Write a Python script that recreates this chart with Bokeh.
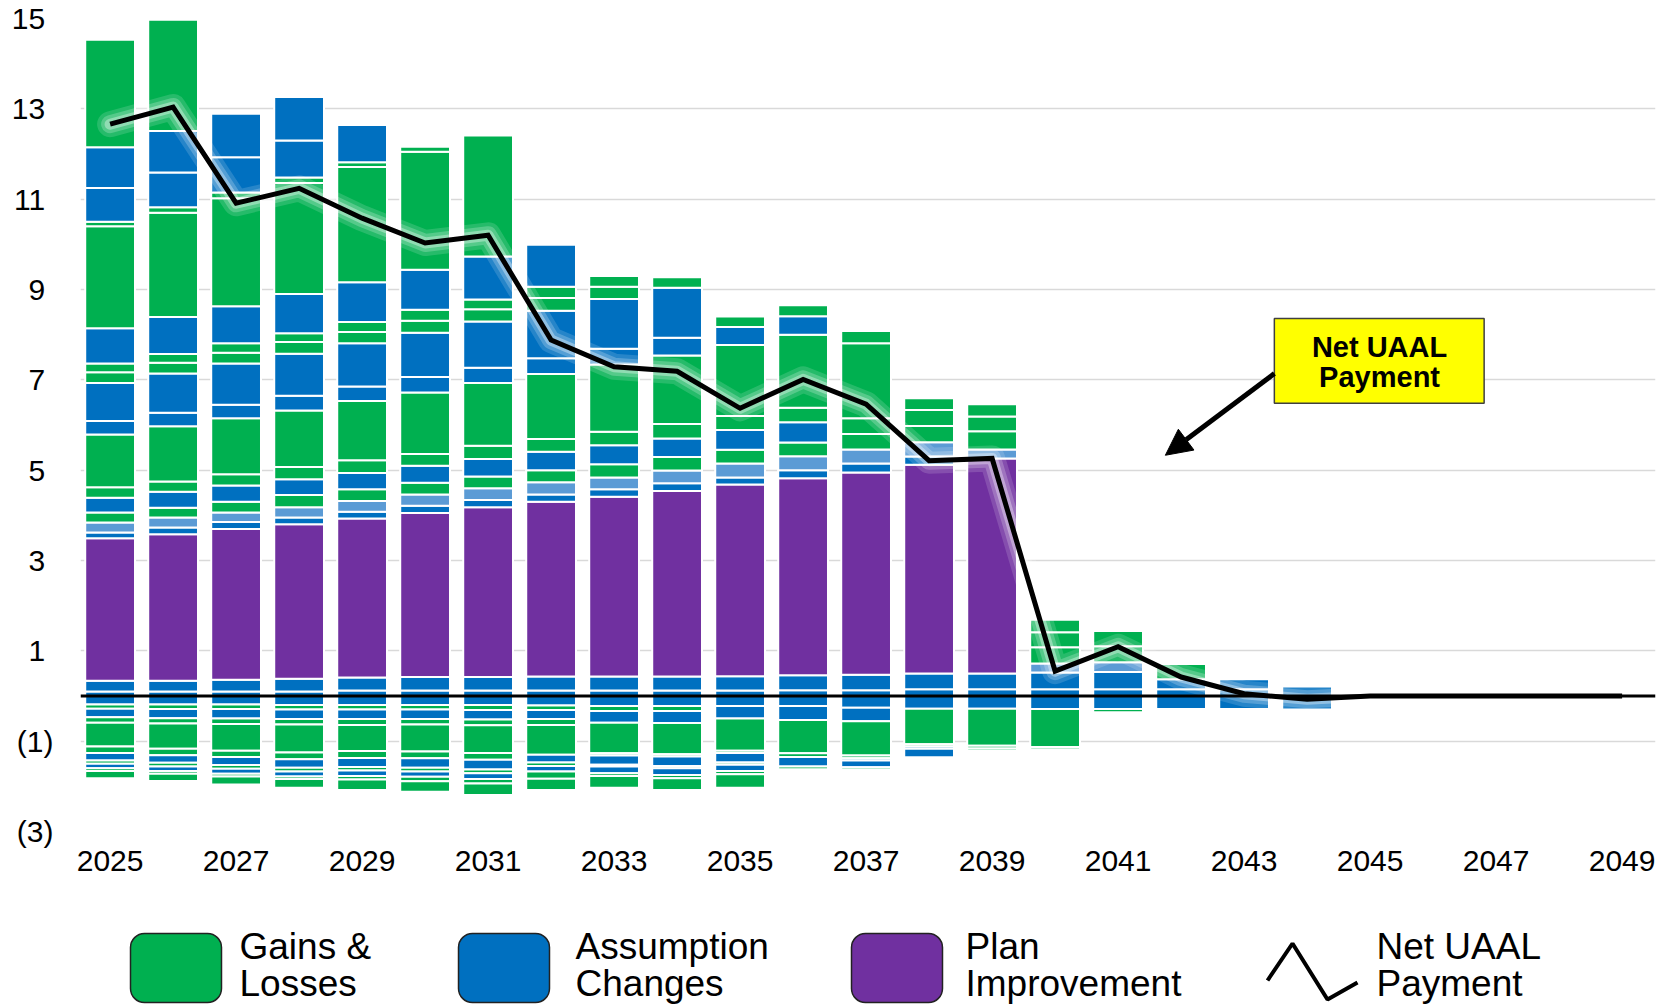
from bokeh.plotting import figure
from bokeh.layouts import column
from bokeh.models import (ColumnDataSource, FixedTicker, Range1d, Span, BoxAnnotation,
                          Label, Arrow, NormalHead)
from bokeh.core.properties import value
from bokeh.embed import file_html
from bokeh.resources import INLINE

# ---------------- data ----------------
years = list(range(2025, 2045))
line_years = list(range(2025, 2050))
net_uaal = [12.66, 13.04, 10.91, 11.24, 10.58, 10.03, 10.20, 7.88, 7.29, 7.19, 6.37, 7.01,
            6.46, 5.21, 5.26, 0.55, 1.09, 0.42, 0.05, -0.07, 0, 0, 0, 0, 0]

# positive layers, bottom to top (G = Gains & Losses, B = Assumption Changes,
# P = Plan Improvement, L = Assumption Changes lighter shade)
pos_b0 = [0.10, 0.10, 0.10, 0.10, 0.12, 0.12, 0.12, 0.12, 0.12, 0.12, 0.12, 0.13, 0.13, 0.15, 0.15, 0.15, 0.15, 0.15, 0.15, 0.21]
pos_b1 = [0.24, 0.24, 0.26, 0.28, 0.29, 0.30, 0.30, 0.31, 0.31, 0.31, 0.32, 0.33, 0.34, 0.35, 0.35, 0.37, 0.38, 0.22, 0.22, 0]
pos_plan = [3.15, 3.24, 3.34, 3.42, 3.52, 3.63, 3.76, 3.87, 3.98, 4.11, 4.24, 4.36, 4.48, 4.62, 4.76, 0, 0, 0, 0, 0]
pos_b3 = [0.13, 0.15, 0.15, 0.15, 0.15, 0.16, 0.16, 0.16, 0.17, 0.17, 0.16, 0.18, 0.20, 0.18, 0, 0, 0, 0, 0, 0]
pos_l4 = [0.22, 0.22, 0.21, 0.23, 0.24, 0.25, 0.26, 0.27, 0.26, 0.28, 0.31, 0.31, 0.31, 0.32, 0.20, 0.20, 0.22, 0, 0, 0]
pos_g5 = [0.22, 0.22, 0.24, 0.27, 0.26, 0.26, 0.26, 0.27, 0.29, 0.30, 0.30, 0.30, 0.34, 0.36, 0.40, 0.36, 0.35, 0.34, 0, 0]
pos_b6 = [0.33, 0.35, 0.36, 0.35, 0.36, 0.38, 0.39, 0.41, 0.42, 0.41, 0.44, 0.45, 0, 0, 0, 0, 0, 0, 0, 0]
pos_g7 = [0.23, 0.23, 0.25, 0.27, 0.28, 0.26, 0.29, 0.28, 0.30, 0.32, 0.31, 0.32, 0.35, 0.35, 0.33, 0.33, 0.34, 0, 0, 0]
pos_g8 = [1.17, 1.22, 1.24, 1.25, 1.31, 1.36, 1.39, 1.44, 1.49, 1.52, 1.57, 1.62, 1.66, 0, 0, 0, 0, 0, 0, 0]
pos_b9 = [0.30, 0.30, 0.30, 0.33, 0.32, 0.34, 0.34, 0.35, 0.35, 0.39, 0.40, 0.41, 0, 0, 0, 0, 0, 0, 0, 0]
pos_b10 = [0.84, 0.87, 0.91, 0.93, 0.96, 0.98, 1.02, 1.05, 1.10, 1.11, 0, 0, 0, 0, 0, 0, 0, 0, 0, 0]
pos_g11 = [0.24, 0.24, 0.24, 0.26, 0.25, 0.27, 0.27, 0.28, 0.27, 0.23, 0.23, 0.24, 0.27, 0.26, 0.27, 0.28, 0, 0, 0, 0]
pos_g12 = [0.19, 0.19, 0.21, 0.19, 0.22, 0.24, 0.22, 0.25, 0.24, 0, 0, 0, 0, 0, 0, 0, 0, 0, 0, 0]
pos_b13 = [0.78, 0.82, 0.82, 0.87, 0.88, 0.89, 0.95, 0.93, 0, 0, 0, 0, 0, 0, 0, 0, 0, 0, 0, 0]
pos_g14 = [2.26, 2.31, 2.39, 2.46, 2.55, 2.61, 2.68, 0, 0, 0, 0, 0, 0, 0, 0, 0, 0, 0, 0, 0]
pos_g15 = [0.10, 0.12, 0.13, 0.12, 0.11, 0.11, 0, 0, 0, 0, 0, 0, 0, 0, 0, 0, 0, 0, 0, 0]
pos_b16 = [0.75, 0.77, 0.78, 0.82, 0.82, 0, 0, 0, 0, 0, 0, 0, 0, 0, 0, 0, 0, 0, 0, 0]
pos_b17 = [0.90, 0.92, 0.96, 0.96, 0, 0, 0, 0, 0, 0, 0, 0, 0, 0, 0, 0, 0, 0, 0, 0]
pos_g18 = [2.38, 2.46, 0, 0, 0, 0, 0, 0, 0, 0, 0, 0, 0, 0, 0, 0, 0, 0, 0, 0]

# negative layers, from zero downward (magnitudes)
neg_b0 = [0.19, 0.19, 0.19, 0.20, 0.20, 0.20, 0.20, 0.21, 0.22, 0.22, 0.22, 0.22, 0.26, 0.28, 0.28, 0.29, 0.29, 0.29, 0.29, 0.30]
neg_g1 = [0.09, 0.10, 0.10, 0.10, 0.10, 0.10, 0.11, 0.10, 0.11, 0.11, 0, 0, 0, 0, 0, 0, 0.07, 0, 0, 0]
neg_b2 = [0.19, 0.20, 0.21, 0.21, 0.21, 0.21, 0.21, 0.20, 0.26, 0.27, 0.28, 0.31, 0.30, 0, 0, 0, 0, 0, 0, 0]
neg_g3 = [0.12, 0.12, 0.12, 0.12, 0.13, 0.12, 0.13, 0.13, 0, 0, 0, 0, 0, 0, 0, 0, 0, 0, 0, 0]
neg_g4 = [0.53, 0.56, 0.59, 0.62, 0.58, 0.60, 0.61, 0.66, 0.68, 0.69, 0.71, 0.74, 0.76, 0.79, 0.82, 0.84, 0, 0, 0, 0]
neg_g5 = [0.14, 0.14, 0.14, 0.15, 0.15, 0.15, 0.15, 0, 0.05, 0.05, 0.05, 0.08, 0.06, 0.05, 0.06, 0.05, 0, 0, 0, 0]
neg_b6 = [0.17, 0.17, 0.18, 0.19, 0.20, 0.21, 0.22, 0.17, 0.20, 0.21, 0.21, 0.21, 0.05, 0.05, 0, 0, 0, 0, 0, 0]
neg_g7 = [0.07, 0.08, 0.08, 0.08, 0.08, 0.08, 0.08, 0.08, 0.04, 0.05, 0.05, 0.06, 0, 0, 0.05, 0, 0, 0, 0, 0]
neg_b8 = [0.10, 0.10, 0.11, 0.11, 0.12, 0.12, 0.13, 0.12, 0.15, 0.15, 0.14, 0, 0.15, 0.19, 0, 0, 0, 0, 0, 0]
neg_g9 = [0.06, 0.06, 0.06, 0.06, 0.08, 0.10, 0.10, 0.16, 0.06, 0.07, 0.07, 0, 0.05, 0.04, 0, 0, 0, 0, 0, 0]
neg_g10 = [0.16, 0.16, 0.18, 0.19, 0.23, 0.23, 0.25, 0.25, 0.26, 0.26, 0.30, 0, 0, 0, 0, 0, 0, 0, 0, 0]

y_ticks = [-3, -1, 1, 3, 5, 7, 9, 11, 13, 15]
y_tick_labels = ["(3)", "(1)", "1", "3", "5", "7", "9", "11", "13", "15"]
x_ticks = list(range(2025, 2050, 2))
legend_labels = [["Gains &", "Losses"], ["Assumption", "Changes"], ["Plan", "Improvement"], ["Net UAAL", "Payment"]]

# ---------------- styles ----------------
COL = {"G": "#00B050", "B": "#0070C0", "P": "#7030A0", "L": "#5B9BD5"}
FONT = "Liberation Sans"

pos_layers = [("B", pos_b0), ("B", pos_b1), ("P", pos_plan), ("B", pos_b3), ("L", pos_l4),
              ("G", pos_g5), ("B", pos_b6), ("G", pos_g7), ("G", pos_g8), ("B", pos_b9),
              ("B", pos_b10), ("G", pos_g11), ("G", pos_g12), ("B", pos_b13), ("G", pos_g14),
              ("G", pos_g15), ("B", pos_b16), ("B", pos_b17), ("G", pos_g18)]
neg_layers = [("B", neg_b0), ("G", neg_g1), ("B", neg_b2), ("G", neg_g3), ("G", neg_g4),
              ("G", neg_g5), ("B", neg_b6), ("G", neg_g7), ("B", neg_b8), ("G", neg_g9),
              ("G", neg_g10)]

seg = dict(x=[], bottom=[], top=[], color=[])
for i, yr in enumerate(years):
    cum = 0.0
    for cat, vals in pos_layers:
        v = vals[i]
        if v > 0:
            seg["x"].append(yr); seg["bottom"].append(cum); seg["top"].append(cum + v)
            seg["color"].append(COL[cat]); cum += v
    cum = 0.0
    for cat, vals in neg_layers:
        v = vals[i]
        if v > 0:
            seg["x"].append(yr); seg["top"].append(cum); seg["bottom"].append(cum - v)
            seg["color"].append(COL[cat]); cum -= v
src = ColumnDataSource(seg)

p = figure(width=1672, height=880, x_range=Range1d(2024.53, 2049.53), y_range=Range1d(-3, 15),
           toolbar_location=None, output_backend="svg",
           min_border_left=80, min_border_right=17, min_border_top=18, min_border_bottom=49)
p.outline_line_color = None
p.xgrid.visible = False
p.ygrid.grid_line_color = "#d9d9d9"
p.ygrid.grid_line_width = 1.5
p.yaxis.ticker = FixedTicker(ticks=y_ticks)
p.yaxis.major_label_overrides = {t: (l if l.startswith("(") else l + "\u00a0")
                                 for t, l in zip(y_ticks, y_tick_labels)}
p.xaxis.ticker = FixedTicker(ticks=x_ticks)
for ax in (p.xaxis[0], p.yaxis[0]):
    ax.axis_line_color = None
    ax.major_tick_line_color = None
    ax.minor_tick_line_color = None
    ax.major_tick_out = 0
    ax.major_tick_in = 0
    ax.minor_tick_out = 0
    ax.major_label_text_font = FONT
    ax.major_label_text_font_size = "30px"
    ax.major_label_text_color = "#000000"
p.xaxis.major_label_standoff = 19
p.yaxis.major_label_standoff = 27

p.vbar(x="x", bottom="bottom", top="top", width=0.79, fill_color="color",
       line_color="white", line_width=2, source=src)

p.add_layout(Span(location=0, dimension="width", line_color="black", line_width=3))

# glow under net line
for w, a in [(26, 0.15), (18, 0.22), (11, 0.35)]:
    p.line(line_years, net_uaal, line_color="white", line_width=w, line_alpha=a,
           line_join="round", line_cap="round")
p.line(line_years, net_uaal, line_color="black", line_width=5, line_join="miter")

# callout
p.add_layout(BoxAnnotation(left=2043.48, right=2046.81, bottom=6.48, top=8.36,
                           fill_color="#FFFF00", fill_alpha=1, line_color="#404040",
                           line_width=1.5, line_alpha=1))
for txt, yy in [("Net UAAL", 7.72), ("Payment", 7.07)]:
    p.add_layout(Label(x=2045.15, y=yy, text=txt, text_align="center", text_baseline="middle",
                       text_font=FONT, text_font_style="bold", text_font_size="29px",
                       text_color="black"))
p.add_layout(Arrow(x_start=2043.48, y_start=7.14, x_end=2041.75, y_end=5.33,
                   line_width=5, line_color="black",
                   end=NormalHead(size=26, fill_color="black", line_color="black")))

# ---------------- legend (x data units == page pixels, frame aligned with chart) ----------------
leg = figure(width=1672, height=125, x_range=Range1d(80, 1655), y_range=Range1d(0, 125),
             toolbar_location=None, output_backend="svg", x_axis_type=None, y_axis_type=None,
             min_border=0, min_border_left=80, min_border_right=17)
leg.outline_line_color = None
leg.grid.visible = False
box_x = [(130, 221), (458, 549), (851, 942)]
for (l, r), c in zip(box_x, ["G", "B", "P"]):
    leg.add_layout(BoxAnnotation(left=l, right=r, bottom=3, top=72, fill_color=COL[c],
                                 fill_alpha=1, line_color="#222222", line_width=1.5,
                                 line_alpha=1, border_radius=14))
text_x = [239, 575, 965, 1376]
tx, ty, tt = [], [], []
for x0, labs in zip(text_x, legend_labels):
    tx += [x0, x0]; ty += [1005 - 946, 1005 - 983]; tt += labs
leg.text(x=tx, y=ty, text=tt, text_font=value(FONT), text_font_size="37px",
         text_baseline="middle", text_align="left", text_color="black")
leg.line(x=[1267, 1292, 1327, 1357], y=[125 - 100, 125 - 63, 125 - 119, 125 - 102],
         line_color="black", line_width=4)

layout = column(p, leg, spacing=0)
open("out.html", "w").write(file_html(layout, INLINE))
